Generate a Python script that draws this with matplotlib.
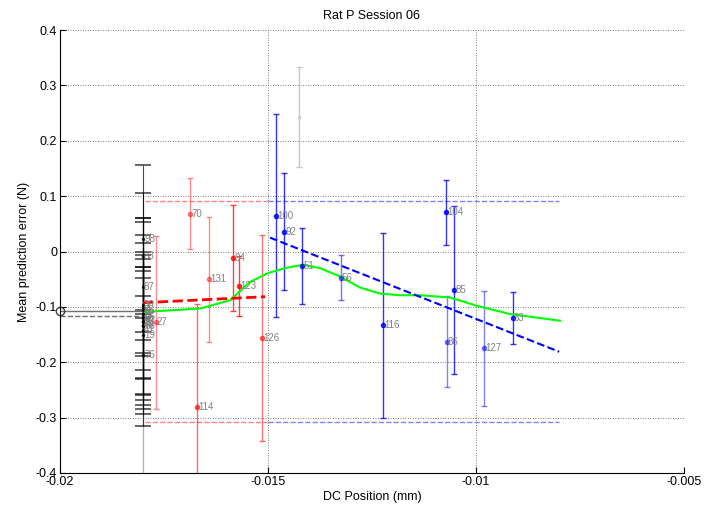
import matplotlib
matplotlib.use('Agg')
import matplotlib.pyplot as plt
import numpy as np

plt.rcParams['font.family'] = ['Liberation Sans', 'DejaVu Sans']

# --- datos ---
# grupo de referencia (negro) en x = -0.018
clu_x = -0.018
clu_mean = [0.022, -0.008, -0.064, -0.187, -0.100, -0.112, -0.120, -0.128,
            -0.135, -0.142, -0.150, -0.106, -0.118, -0.125, -0.096, -0.132]
clu_err = [0.134, 0.113, 0.124, 0.106, 0.160, 0.166, 0.149, 0.100,
           0.122, 0.142, 0.165, 0.078, 0.112, 0.089, 0.049, 0.027]
clu_lab = ['98', '83', '87', '76', '7', '92', '55', '28',
           '63', '41', '19', '85', '95', '50', '38', '44']

# sesiones rojas
red_x = [-0.0177, -0.01688, -0.01642, -0.01671, -0.01583, -0.01569, -0.01515]
red_y = [-0.128, 0.068, -0.050, -0.281, -0.012, -0.062, -0.157]
red_err = [0.156, 0.064, 0.113, 0.186, 0.096, 0.054, 0.186]
red_lab = ['27', '70', '131', '114', '94', '123', '126']
red_alpha = [0.45, 0.45, 0.45, 0.6, 0.75, 0.75, 0.55]

# sesiones azules
blue_x = [-0.01481, -0.01461, -0.01418, -0.01325, -0.01224, -0.01072,
          -0.01052, -0.0107, -0.00981, -0.00912]
blue_y = [0.065, 0.036, -0.026, -0.047, -0.133, 0.071, -0.0695, -0.163, -0.175, -0.1195]
blue_err = [0.183, 0.105, 0.069, 0.040, 0.167, 0.059, 0.152, 0.082, 0.104, 0.047]
blue_lab = ['100', '92', '51', '56', '116', '104', '85', '86', '127', '33']
blue_alpha = [0.8, 0.8, 0.8, 0.55, 0.8, 0.8, 0.8, 0.5, 0.5, 0.8]

# punto gris aislado
grey_x, grey_y, grey_err = -0.01426, 0.243, 0.090

# rectas de regresion
red_fit_x = [-0.018, -0.01507]
red_fit_y = [-0.0925, -0.0816]
blue_fit_x = [-0.01495, -0.008]
blue_fit_y = [0.025, -0.181]

# limites horizontales
lim_hi, lim_lo = 0.092, -0.308
red_span = [-0.01796, -0.015]
blue_span = [-0.015, -0.008]

# curva suavizada (verde)
green_x = [-0.01796, -0.01663, -0.01591, -0.01543, -0.0150, -0.01459, -0.01416,
           -0.01375, -0.01327, -0.01279, -0.01231, -0.01183, -0.01135, -0.01063,
           -0.00998, -0.00918, -0.00798]
green_y = [-0.109, -0.103, -0.088, -0.055, -0.039, -0.030, -0.024,
           -0.030, -0.045, -0.065, -0.076, -0.079, -0.079, -0.083,
           -0.098, -0.113, -0.125]

# punto de inicio (circulo)
start_x, start_y = -0.02, -0.107
start_y2 = -0.116

# ==========================================
# GRAFICO
# ==========================================
fig = plt.figure(figsize=(7.05, 5.14), dpi=100)
ax = fig.add_axes([0.0851, 0.0798, 0.8851, 0.8618])

lab_kw = dict(fontsize=7, color='#808080', va='center', ha='left')

# linea gris vertical del grupo
ax.plot([clu_x, clu_x], [-0.4, 0.0], color='#b0b0b0', lw=1)

for m, e, l in zip(clu_mean, clu_err, clu_lab):
    ax.errorbar(clu_x, m, yerr=e, color='black', alpha=0.7, lw=0.8,
                capsize=6, capthick=1.2, marker='.', ms=3)
    ax.text(clu_x + 0.00002, m, l, **lab_kw)

# circulo de inicio
ax.plot([start_x, clu_x], [start_y, start_y], color='#707070', lw=1)
ax.plot([start_x, clu_x], [start_y2, start_y2], color='#707070', lw=1, ls='--')
ax.plot(start_x, start_y, 'o', mfc='none', mec='#404040', ms=6, clip_on=False)

# limites
ax.plot(red_span, [lim_hi, lim_hi], '--', color='#ff8080', lw=1)
ax.plot(red_span, [lim_lo, lim_lo], '--', color='#ff8080', lw=1)
ax.plot(blue_span, [lim_hi, lim_hi], '--', color='#8080ff', lw=1)
ax.plot(blue_span, [lim_lo, lim_lo], '--', color='#8080ff', lw=1)

ax.errorbar(grey_x, grey_y, yerr=grey_err, color='#c8c8c8', lw=1,
            capsize=2.5, marker='.', ms=3)

for x, y, e, l, a in zip(red_x, red_y, red_err, red_lab, red_alpha):
    ax.errorbar(x, y, yerr=e, color='red', alpha=a, lw=1,
                capsize=2.5, marker='.', ms=6)
    ax.text(x + 0.00003, y, l, **lab_kw)

for x, y, e, l, a in zip(blue_x, blue_y, blue_err, blue_lab, blue_alpha):
    ax.errorbar(x, y, yerr=e, color='blue', alpha=a, lw=1,
                capsize=2.5, marker='.', ms=6)
    ax.text(x + 0.00003, y, l, **lab_kw)

ax.plot(green_x, green_y, color='#00ff00', lw=1.5)
ax.plot(red_fit_x, red_fit_y, '--', color='red', lw=2)
ax.plot(blue_fit_x, blue_fit_y, '--', color='blue', lw=1.5)

ax.set_xlim(-0.02, -0.005)
ax.set_ylim(-0.4, 0.4)
ax.set_xticks([-0.02, -0.015, -0.01, -0.005])
ax.set_xticklabels(['-0.02', '-0.015', '-0.01', '-0.005'])
ax.set_yticks(np.arange(-4, 5) / 10)
ax.set_yticklabels(['-0.4', '-0.3', '-0.2', '-0.1', '0', '0.1', '0.2', '0.3', '0.4'])
ax.tick_params(direction='in', length=4, labelsize=9, pad=2)
ax.grid(True, ls=(0, (1, 2)), color='#505050', lw=0.6)
ax.spines['top'].set_visible(False)
ax.spines['right'].set_visible(False)

ax.set_title('Rat P Session 06', fontsize=9, pad=8)
ax.set_xlabel('DC Position (mm)', fontsize=9, labelpad=2)
ax.set_ylabel('Mean prediction error (N)', fontsize=9, labelpad=4)

fig.savefig('out.png', dpi=100)
